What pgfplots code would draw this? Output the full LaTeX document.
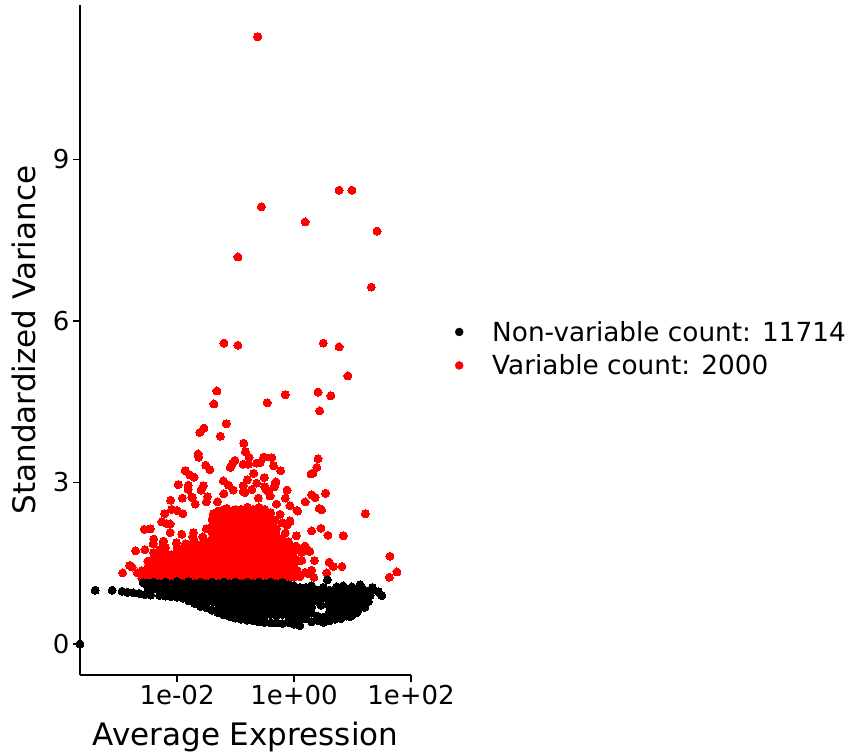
\documentclass[border=0pt]{standalone}
\usepackage{pgfplots}
\pgfplotsset{compat=1.18}
\usepackage{fontspec}
\setmainfont{DejaVu Sans}
\begin{document}
\begin{tikzpicture}
\useasboundingbox (-80pt,-77pt) rectangle (771pt,675pt);
% x values are log10(average expression)
\begin{axis}[
    scale only axis,
    width=331pt,
    height=670pt,
    xmin=-3.66, xmax=2,
    ymin=-0.576, ymax=11.87,
    axis lines=left,
    axis line style={-, line width=1.9pt},
    clip=false,
    xtick={-2,0,2},
    xticklabels={1e-02,1e+00,1e+02},
    ytick={0,3,6,9},
    tick align=outside,
    major tick length=7pt,
    tick style={line width=1.6pt, black},
    /pgf/number format/assume math mode=true,
    tick label style={font=\fontsize{26}{31}\selectfont},
    label style={font=\fontsize{31}{37}\selectfont},
    xlabel={Average Expression},
    xlabel shift=10pt,
    ylabel={Standardized Variance},
    ylabel shift=10pt,
    legend style={at={(1.124,0.487)}, anchor=west, draw=none, fill=none,
        font=\fontsize{26.3}{34}\selectfont, row sep=8pt,
        /tikz/column 1/.style={column sep=27pt}},
    legend cell align=left,
]
\addlegendimage{only marks, mark=*, mark size=4pt, black}
\addlegendimage{only marks, mark=*, mark size=4pt, red}
\addlegendentry{Non-variable count: 11714}
\addlegendentry{Variable count: 2000}
% variable genes, scattered ones
\addplot[only marks, mark=*, mark size=4pt, red, line width=0pt, forget plot] coordinates {
(-.62,11.28)(-.56,8.12)(.19,7.84)(.77,8.43)(.99,8.43)(1.42,7.67)(-.96,7.19)(1.32,6.63)
(-1.20,5.59)(-.96,5.55)(.50,5.59)(.77,5.52)(.92,4.98)(-1.32,4.70)(-1.37,4.46)(-1.16,4.09)
(-.15,4.63)(-.46,4.48)(.41,4.68)(.63,4.61)(.44,4.33)(.41,3.44)(.39,3.28)(.32,3.17)(.29,3.16)
(-.51,3.47)(-.38,3.46)(-.35,3.31)(-.23,3.22)(-.51,3.09)(-.31,3.01)(-.34,2.92)(-.12,2.86)
(-.50,2.92)(-.44,2.83)(-.41,2.75)(-.15,2.71)(.30,2.77)(.36,2.72)(.54,2.80)(.19,2.64)(-.30,2.60)
(-.07,2.57)(.43,2.52)(.47,2.49)(.06,2.47)(1.22,2.42)
(-1.54,4.01)(-1.61,3.93)(-1.26,3.86)(-.86,3.73)(-.83,3.57)(-1.64,3.53)(-1.63,3.47)(-.77,3.47)
(-1.01,3.41)(-1.05,3.36)(-1.09,3.28)(-.87,3.34)(-.78,3.34)(-.64,3.36)(-.58,3.37)(-.52,3.47)
(-1.51,3.32)(-1.44,3.24)(-1.86,3.22)(-1.78,3.14)(-1.71,3.10)(-.69,3.17)(-1.21,3.03)(-1.12,2.95)
(-1.04,2.86)(-.80,3.05)(-.64,2.99)(-.87,2.94)(-.87,2.83)(-.72,2.87)(-.47,2.86)
(-1.98,2.96)(-1.81,2.95)(-1.81,2.87)(-1.55,2.94)(-1.59,2.86)(-1.20,2.79)(-1.48,2.74)(-2.11,2.67)
(-1.91,2.71)(-1.74,2.72)(-1.69,2.60)(-1.50,2.64)(-1.31,2.64)(-.61,2.71)(-1.75,2.73)(-.84,2.81)
(-2.09,2.50)(-2.00,2.48)(-2.21,2.42)(-1.90,2.42)
(-2.93,1.32)(-2.81,1.46)(-2.71,1.73)(-2.56,2.13)(-2.46,2.14)(-2.26,2.27)(-2.18,2.24)(-2.12,2.23)
(-2.12,2.07)(-1.92,2.04)(-2.40,1.95)(-2.23,1.91)(-2.01,1.88)(-1.72,2.07)(-1.55,1.90)(-2.63,1.32)
(.30,2.10)(.46,2.15)(.58,2.02)(.84,2.01)(.04,2.01)(-.07,2.27)(1.64,1.63)(1.76,1.34)(1.63,1.24)
(.13,1.55)(.35,1.55)(.60,1.52)(.67,1.44)(.82,1.44)(.56,1.32)(.27,1.72)(.19,1.82)(.03,1.82)
(.30,1.37)(.24,1.31)(.34,1.24)(.10,1.25)(.05,1.37)(-.12,2.21)
(-.24,2.41)(.05,2.48)(-.07,2.29)(-.15,2.06)(-.32,2.30)(-.2,2.25)
(.08,1.78)(.13,1.70)(.07,1.55)(.19,1.33)
(-2.55,1.75)(-2.41,1.86)(-2.24,1.89)(-2.0,1.80)(-1.86,1.86)(-1.73,1.99)(-1.56,1.99)(-1.44,2.14)
(-2.77,1.43)(-2.68,1.32)
(-1.38,2.42)(-1.3,2.47)(-1.2,2.50)(-1.15,2.52)
};
% variable genes, the dense part
\addplot[only marks, mark=*, mark size=4pt, red, line width=0pt, forget plot] coordinates {
(-2.6,1.36)(-2.6,1.22)(-2.5,1.20)(-2.5,1.30)(-2.5,1.42)(-2.5,1.54)
(-2.4,1.24)(-2.4,1.36)(-2.4,1.48)(-2.4,1.60)(-2.4,1.70)
(-2.3,1.20)(-2.3,1.30)(-2.3,1.42)(-2.3,1.54)(-2.3,1.66)(-2.3,1.75)
(-2.2,1.24)(-2.2,1.36)(-2.2,1.48)(-2.2,1.60)(-2.2,1.72)(-2.2,1.80)
(-2.1,1.20)(-2.1,1.30)(-2.1,1.42)(-2.1,1.54)(-2.1,1.66)
(-2.0,1.24)(-2.0,1.36)(-2.0,1.48)(-2.0,1.60)(-2.0,1.72)
(-1.9,1.20)(-1.9,1.30)(-1.9,1.42)(-1.9,1.54)(-1.9,1.66)(-1.9,1.78)
(-1.8,1.24)(-1.8,1.36)(-1.8,1.48)(-1.8,1.60)(-1.8,1.72)(-1.8,1.84)
(-1.7,1.20)(-1.7,1.30)(-1.7,1.42)(-1.7,1.54)(-1.7,1.66)(-1.7,1.78)(-1.7,1.90)
(-1.6,1.24)(-1.6,1.36)(-1.6,1.48)(-1.6,1.60)(-1.6,1.72)(-1.6,1.84)
(-1.5,1.20)(-1.5,1.30)(-1.5,1.42)(-1.5,1.54)(-1.5,1.66)(-1.5,1.78)(-1.5,1.90)(-1.5,2.14)
(-1.4,1.24)(-1.4,1.36)(-1.4,1.48)(-1.4,1.60)(-1.4,1.72)(-1.4,1.84)(-1.4,1.96)(-1.4,2.08)(-1.4,2.20)(-1.4,2.32)
(-1.3,1.20)(-1.3,1.30)(-1.3,1.42)(-1.3,1.54)(-1.3,1.66)(-1.3,1.78)(-1.3,1.90)(-1.3,2.02)(-1.3,2.14)(-1.3,2.26)(-1.3,2.38)
(-1.2,1.24)(-1.2,1.36)(-1.2,1.48)(-1.2,1.60)(-1.2,1.72)(-1.2,1.84)(-1.2,1.96)(-1.2,2.08)(-1.2,2.20)(-1.2,2.32)(-1.2,2.44)
(-1.1,1.20)(-1.1,1.30)(-1.1,1.42)(-1.1,1.54)(-1.1,1.66)(-1.1,1.78)(-1.1,1.90)(-1.1,2.02)(-1.1,2.14)(-1.1,2.26)(-1.1,2.38)(-1.1,2.47)
(-1.0,1.24)(-1.0,1.36)(-1.0,1.48)(-1.0,1.60)(-1.0,1.72)(-1.0,1.84)(-1.0,1.96)(-1.0,2.08)(-1.0,2.20)(-1.0,2.32)(-1.0,2.44)(-1.0,2.50)
(-.9,1.20)(-.9,1.30)(-.9,1.42)(-.9,1.54)(-.9,1.66)(-.9,1.78)(-.9,1.90)(-.9,2.02)(-.9,2.14)(-.9,2.26)(-.9,2.38)(-.9,2.50)
(-.8,1.24)(-.8,1.36)(-.8,1.48)(-.8,1.60)(-.8,1.72)(-.8,1.84)(-.8,1.96)(-.8,2.08)(-.8,2.20)(-.8,2.32)(-.8,2.44)(-.8,2.54)
(-.7,1.20)(-.7,1.30)(-.7,1.42)(-.7,1.54)(-.7,1.66)(-.7,1.78)(-.7,1.90)(-.7,2.02)(-.7,2.14)(-.7,2.26)(-.7,2.38)(-.7,2.50)
(-.6,1.24)(-.6,1.36)(-.6,1.48)(-.6,1.60)(-.6,1.72)(-.6,1.84)(-.6,1.96)(-.6,2.08)(-.6,2.20)(-.6,2.32)(-.6,2.44)(-.6,2.54)
(-.5,1.20)(-.5,1.30)(-.5,1.42)(-.5,1.54)(-.5,1.66)(-.5,1.78)(-.5,1.90)(-.5,2.02)(-.5,2.14)(-.5,2.26)(-.5,2.38)(-.5,2.50)
(-.4,1.24)(-.4,1.36)(-.4,1.48)(-.4,1.60)(-.4,1.72)(-.4,1.84)(-.4,1.96)(-.4,2.08)(-.4,2.20)(-.4,2.32)(-.4,2.44)
(-.3,1.20)(-.3,1.30)(-.3,1.42)(-.3,1.54)(-.3,1.66)(-.3,1.78)(-.3,1.90)(-.3,2.02)(-.3,2.14)
(-.2,1.24)(-.2,1.36)(-.2,1.48)(-.2,1.60)(-.2,1.72)(-.2,1.84)(-.2,1.96)
(-.1,1.20)(-.1,1.30)(-.1,1.42)(-.1,1.54)(-.1,1.66)(-.1,1.78)(-.1,1.90)
(0,1.24)(0,1.36)(0,1.48)(0,1.60)(0,1.72)
};
% non-variable genes
\addplot[only marks, mark=*, mark size=4pt, black, line width=0pt, forget plot] coordinates {
(-3.66,0)(-3.40,1.00)(-3.11,1.00)(-2.94,.98)(-2.85,.96)(-2.75,.95)(-2.65,.94)(-2.55,.92)(-2.45,.91)
(-2.58,1.14)(-2.5,1.13)(-2.5,1.05)(-2.4,1.15)(-2.4,1.03)
(-2.3,1.12)(-2.3,1.02)(-2.3,.90)(-2.2,1.15)(-2.2,1.03)(-2.2,.95)(-2.2,.89)
(-2.1,1.12)(-2.1,1.00)(-2.1,.88)(-2.0,1.16)(-2.0,1.04)(-2.0,.92)(-2.0,.87)
(-1.9,1.12)(-1.9,1.00)(-1.9,.85)(-1.8,1.16)(-1.8,1.04)(-1.8,.92)(-1.8,.80)
(-1.7,1.12)(-1.7,1.00)(-1.7,.88)(-1.7,.75)(-1.6,1.15)(-1.6,1.03)(-1.6,.91)(-1.6,.79)(-1.6,.70)
(-1.5,1.12)(-1.5,1.00)(-1.5,.88)(-1.5,.76)(-1.5,.67)(-1.4,1.15)(-1.4,1.03)(-1.4,.91)(-1.4,.79)(-1.4,.63)
(-1.3,1.12)(-1.3,1.00)(-1.3,.88)(-1.3,.76)(-1.3,.64)(-1.3,.58)
(-1.2,1.15)(-1.2,1.03)(-1.2,.91)(-1.2,.79)(-1.2,.67)(-1.2,.54)
(-1.1,1.12)(-1.1,1.00)(-1.1,.88)(-1.1,.76)(-1.1,.64)(-1.1,.51)
(-1.0,1.15)(-1.0,1.03)(-1.0,.91)(-1.0,.79)(-1.0,.67)(-1.0,.55)(-1.0,.48)
(-.9,1.12)(-.9,1.00)(-.9,.88)(-.9,.76)(-.9,.64)(-.9,.52)(-.9,.46)
(-.8,1.15)(-.8,1.03)(-.8,.91)(-.8,.79)(-.8,.67)(-.8,.55)(-.8,.44)
(-.7,1.12)(-.7,1.00)(-.7,.88)(-.7,.76)(-.7,.64)(-.7,.52)(-.7,.43)
(-.6,1.15)(-.6,1.03)(-.6,.91)(-.6,.79)(-.6,.67)(-.6,.55)(-.6,.41)
(-.5,1.12)(-.5,1.00)(-.5,.88)(-.5,.76)(-.5,.64)(-.5,.52)(-.5,.40)
(-.4,1.15)(-.4,1.03)(-.4,.91)(-.4,.79)(-.4,.67)(-.4,.55)(-.4,.39)
(-.3,1.12)(-.3,1.00)(-.3,.88)(-.3,.76)(-.3,.64)(-.3,.52)(-.3,.39)
(-.2,1.14)(-.2,1.03)(-.2,.91)(-.2,.79)(-.2,.67)(-.2,.55)(-.2,.38)
(-.1,1.10)(-.1,1.00)(-.1,.88)(-.1,.76)(-.1,.64)(-.1,.52)(-.1,.40)
(0,1.08)(0,.94)(0,.82)(0,.70)(0,.58)(0,.46)(0,.37)
(.1,1.05)(.1,.92)(.1,.80)(.1,.68)(.1,.56)(.1,.44)(.1,.34)
(.2,1.05)(.2,.95)(.2,.85)(.2,.75)(.2,.65)(.2,.55)(.2,.47)
(.3,1.08)(.3,.98)(.3,.88)(.3,.78)(.3,.68)(.3,.58)(.3,.41)
(.4,1.00)(.4,.90)(.4,.80)(.4,.52)(.4,.44)
(.5,1.05)(.5,.95)(.5,.85)(.5,.50)(.5,.40)(.46,.72)
(.6,.90)(.6,.80)(.6,.72)(.6,.58)(.6,.43)
(.7,.95)(.7,.85)(.7,.75)(.7,.65)(.7,.55)(.7,.46)
(.8,1.00)(.8,.90)(.8,.80)(.8,.70)(.8,.60)(.8,.47)
(.9,.98)(.9,.88)(.9,.72)(.9,.62)(.9,.52)
(1.0,1.00)(1.0,.92)(1.0,.82)(1.0,.72)(1.0,.62)(1.0,.54)
(1.1,1.04)(1.1,.94)(1.1,.84)(1.1,.74)(1.1,.64)
(1.2,1.00)(1.2,.90)(1.2,.80)(1.2,.70)
(1.3,.98)(1.3,.90)
(.57,1.19)(.60,1.00)(.73,1.06)(.84,1.08)(.99,1.06)(1.13,1.10)(1.34,1.05)(1.44,.97)(1.50,.90)
(1.27,.88)(1.27,.79)(1.21,.68)(1.07,.58)(.96,.51)
};
\end{axis}
\end{tikzpicture}
\end{document}
